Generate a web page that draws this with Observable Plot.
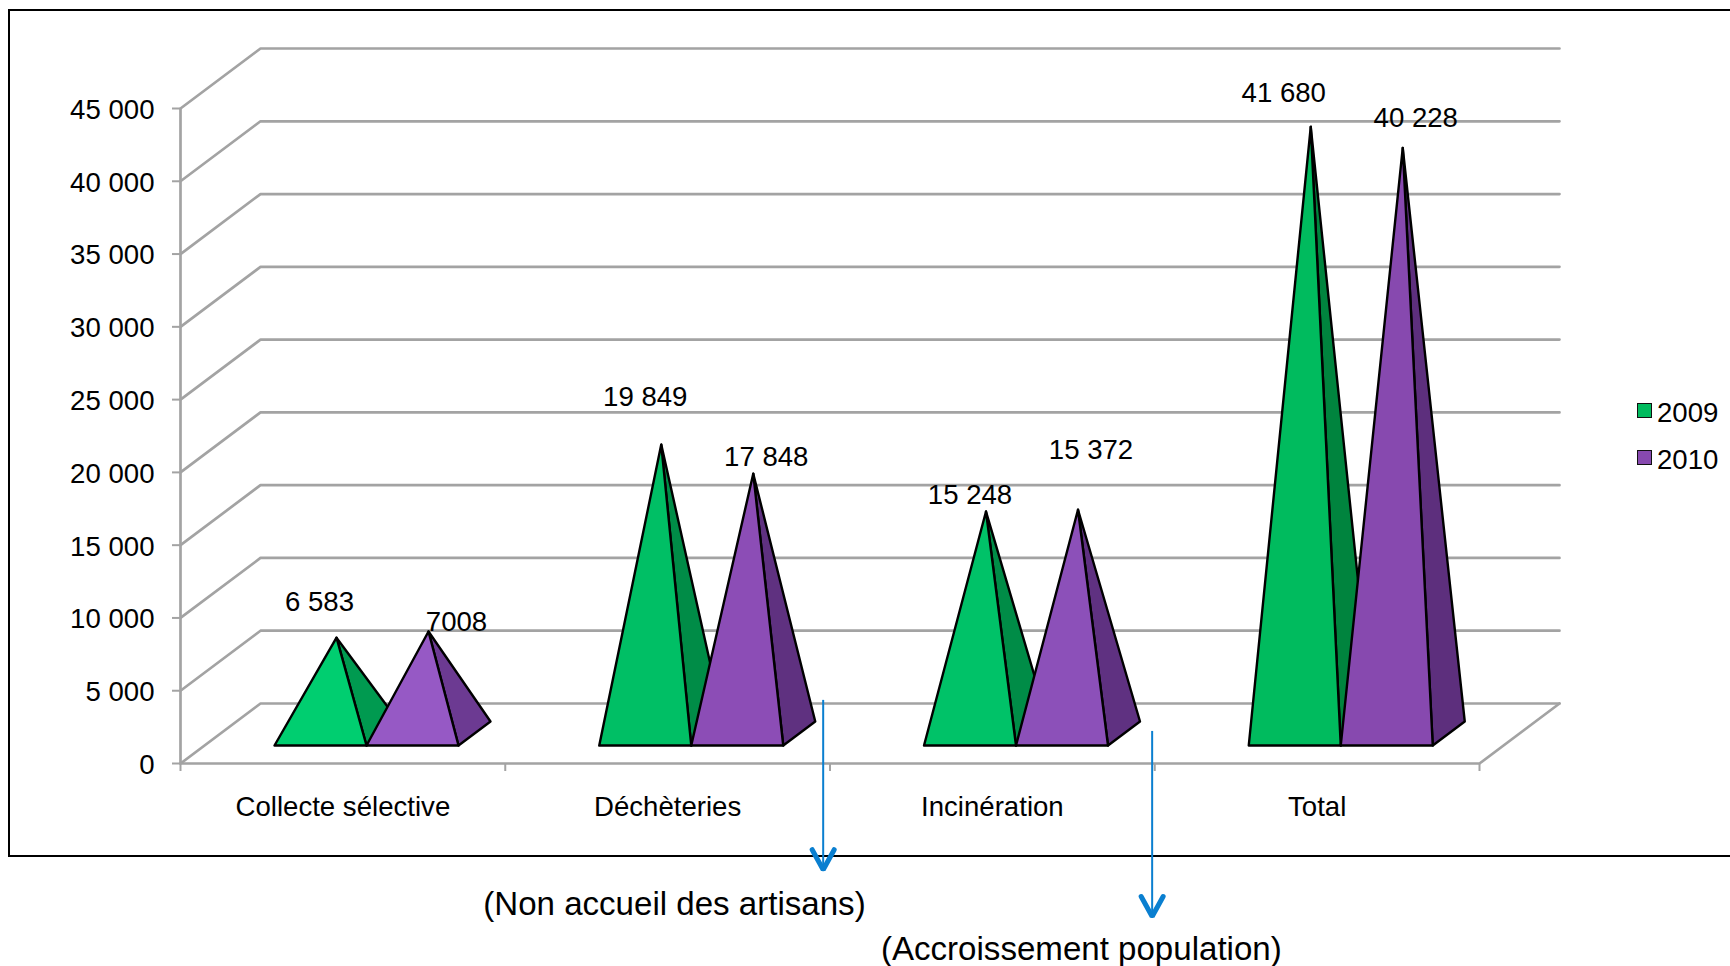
<!DOCTYPE html>
<html lang="fr">
<head>
<meta charset="utf-8">
<script src="https://cdn.jsdelivr.net/npm/d3@7"></script>
<script src="https://cdn.jsdelivr.net/npm/@observablehq/plot@0.6"></script>
<style>
  html, body { margin: 0; padding: 0; background: #fff; overflow: hidden; }
  #stage { position: relative; width: 1730px; height: 966px; font-family: "Liberation Sans", Arial, sans-serif; color: #000; }
  #box { position: absolute; left: 8px; top: 9px; width: 1722px; border: 2px solid #000; border-right: none; box-sizing: border-box; height: 848px; }
  #chart { position: absolute; left: 0; top: 0; }
  #chart svg { background: transparent; display: block; }
  #legend { position: absolute; left: 1637px; top: 389px; font-size: 27.6px; line-height: 47px; }
  #legend div { display: flex; align-items: center; height: 47px; }
  #legend i { display: block; width: 13px; height: 13px; border: 1.5px solid #111; margin-right: 5px; box-sizing: content-box; position: relative; top: -2px; }
</style>
</head>
<body>
<div id="stage">
  <div id="box"></div>
  <div id="chart"></div>
  <div id="legend"></div>
</div>
<script>
// ---- data ----
const categories = ["Collecte sélective", "Déchèteries", "Incinération", "Total"];
const values2009 = [6583, 19849, 15248, 41680];
const values2010 = [7008, 17848, 15372, 40228];
const labels2009 = ["6 583", "19 849", "15 248", "41 680"];
const labels2010 = ["7008", "17 848", "15 372", "40 228"];
const yTicks = [0, 5000, 10000, 15000, 20000, 25000, 30000, 35000, 40000, 45000];
const seriesNames = ["2009", "2010"];
const greenFront = ["#00CE70", "#00BF65", "#00C268", "#00BB5E"];
const greenSide  = ["#009A50", "#008C47", "#008C47", "#00843E"];
const purpleFront = ["#9659C5", "#8C4DB6", "#8C50B9", "#8749AF"];
const purpleSide  = ["#6C3A92", "#5F3180", "#5F3181", "#5D2F7D"];
const annotationTexts = ["(Non accueil des artisans)", "(Accroissement population)"];

// ---- pseudo-3D projection, in the units of the x and y scales ----
const pxPerCat = 324.75;
const pxPerUnit = 655 / 45000;
const depthX = 80 / pxPerCat;
const depthV = 60 / pxPerUnit;
const project = (x, v, d) => ({x: x + d * depthX, y: v + d * depthV});
const barW = 92 / pxPerCat;
const inset = 70 / pxPerCat;

const gridRows = yTicks.map(v => [project(0, v, 0), project(0, v, 1), project(4, v, 1)]);
const floor = [project(0, 0, 0), project(4, 0, 0), project(4, 0, 1)];

function pyramid(i, slot, value) {
  const x0 = i + inset + slot * barW, x1 = x0 + barW;
  const fl = project(x0, 0, 0.3), fr = project(x1, 0, 0.3), br = project(x1, 0, 0.7);
  const apex = project((x0 + x1) / 2, value, 0.5);
  return {front: [fl, fr, apex], side: [fr, br, apex], apex};
}

const faceMarks = [];
const labelRows = [];
const nudges = [
  [[-17, -36], [28, -9]], [[-16, -47], [13, -17]], [[-16, -16], [13, -60]], [[-27, -34], [13, -30]]
];
categories.forEach((c, i) => {
  [[values2009, greenSide, greenFront, labels2009], [values2010, purpleSide, purpleFront, labels2010]].forEach(([vals, side, front, labs], s) => {
    const p = pyramid(i, s, vals[i]);
    for (const [pts, col] of [[p.side, side[i]], [p.front, front[i]]]) {
      faceMarks.push(Plot.line(pts, {x: "x", y: "y", curve: "linear-closed", fill: col, stroke: "#000", strokeWidth: 2.4, strokeLinejoin: "round"}));
    }
    const [nx, ny] = nudges[i][s];
    labelRows.push({x: p.apex.x + nx / pxPerCat, y: p.apex.y - ny / pxPerUnit, t: labs[i]});
  });
});

const arrowBlue = "#0A7FD0";
const arrows = [
  {x: 1.979, from: 4337, to: -7435},
  {x: 2.992, from: 2203, to: -10650}
];
const annotationRows = [
  {x: 1.521, y: -9680, t: annotationTexts[0]},
  {x: 2.774, y: -12780, t: annotationTexts[1]}
];
const wingX = 11 / pxPerCat, wingV = 22 / pxPerUnit;

const fmt = d => d3.format(",")(d).replace(/,/g, " ");
const gray = "#A3A3A3";

const plot = Plot.plot({
  width: 1730, height: 966,
  marginLeft: 180, marginRight: 251, marginTop: 108, marginBottom: 203,
  x: {type: "linear", domain: [0, 4], axis: null},
  y: {type: "linear", domain: [0, 45000], axis: null},
  style: {fontFamily: "'Liberation Sans', Arial, sans-serif", background: "transparent", color: "#000", overflow: "visible"},
  marks: [
    ...gridRows.map(r => Plot.line(r, {x: "x", y: "y", stroke: gray, strokeWidth: 2.7, strokeLinejoin: "miter"})),
    Plot.line(floor, {x: "x", y: "y", stroke: gray, strokeWidth: 2.7}),
    Plot.ruleX([0], {y1: 0, y2: 45000, stroke: gray, strokeWidth: 2.7}),
    Plot.axisY({ticks: yTicks, tickFormat: () => "", tickSize: 8, stroke: gray, strokeWidth: 2, label: null}),
    Plot.axisY({ticks: yTicks, tickFormat: fmt, tickSize: 0, tickPadding: 26, dy: 1.5, fill: "#000", fontSize: 27.6, label: null}),
    Plot.axisX({ticks: [0, 1, 2, 3, 4], tickFormat: () => "", tickSize: 8, stroke: gray, strokeWidth: 2, label: null}),
    Plot.axisX({ticks: [0.5, 1.5, 2.5, 3.5], tickFormat: d => categories[d - 0.5], tickSize: 0, tickPadding: 32.5, fill: "#000", fontSize: 27.6, label: null}),
    ...faceMarks,
    Plot.ruleX(arrows, {x: "x", y1: "from", y2: "to", stroke: arrowBlue, strokeWidth: 2}),
    ...arrows.map(a => Plot.line([
      {x: a.x - wingX, y: a.to + wingV}, {x: a.x, y: a.to + 2 / pxPerUnit}, {x: a.x + wingX, y: a.to + wingV}
    ], {x: "x", y: "y", stroke: arrowBlue, strokeWidth: 5, strokeLinecap: "round", strokeLinejoin: "miter"})),
    Plot.text(labelRows, {x: "x", y: "y", text: "t", fontSize: 27.6, fill: "#000", textAnchor: "middle", lineAnchor: "middle"}),
    Plot.text(annotationRows, {x: "x", y: "y", text: "t", fontSize: 33.1, fill: "#000", textAnchor: "middle", lineAnchor: "middle"})
  ]
});
document.getElementById("chart").appendChild(plot);

const legend = document.getElementById("legend");
seriesNames.forEach((n, i) => {
  const row = document.createElement("div");
  const sw = document.createElement("i");
  sw.style.background = i === 0 ? greenFront[3] : purpleFront[3];
  row.appendChild(sw);
  row.appendChild(document.createTextNode(n));
  legend.appendChild(row);
});
</script>
</body>
</html>
